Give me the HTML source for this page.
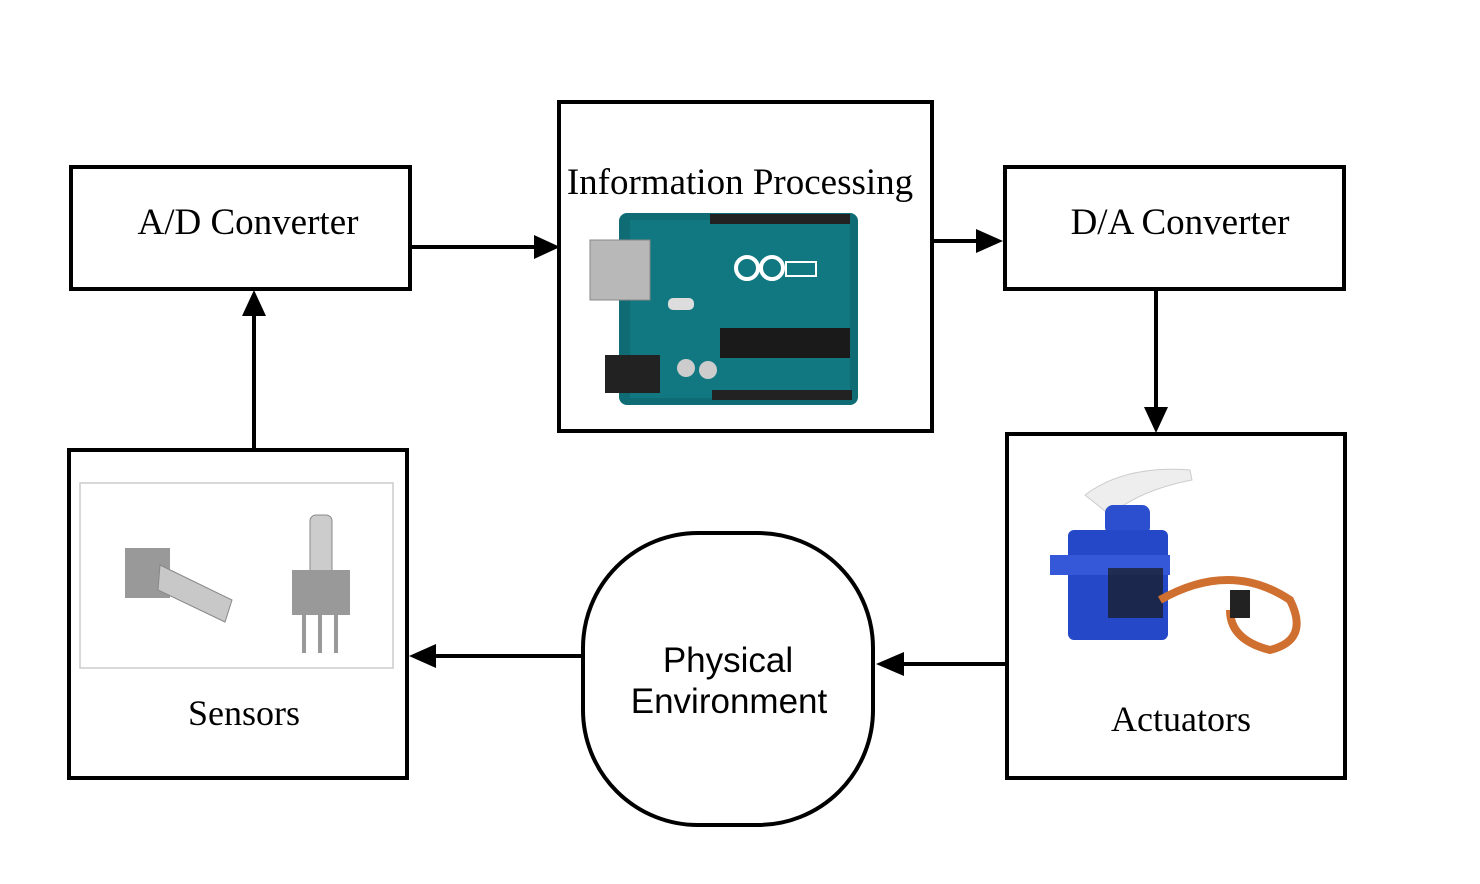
<!DOCTYPE html>
<html><head><meta charset="utf-8"><style>
html,body{margin:0;padding:0;background:#fff;}
svg{display:block;}
.serif{font-family:"Liberation Serif",serif;font-size:37px;fill:#000;}
.sans{font-family:"Liberation Sans",sans-serif;font-size:35px;fill:#000;}
</style></head><body>
<svg width="1480" height="884" viewBox="0 0 1480 884">
<g fill="none" stroke="#000" stroke-width="4">
<rect x="71" y="167" width="339" height="122"/>
<rect x="559" y="102" width="373" height="329"/>
<rect x="1005" y="167" width="339" height="122"/>
<rect x="69" y="450" width="338" height="328"/>
<rect x="1007" y="434" width="338" height="344"/>
<rect x="583" y="533" width="290" height="292" rx="115" ry="115"/>
</g>
<text class="serif" x="248" y="234" text-anchor="middle">A/D Converter</text>
<text class="serif" x="740" y="194" text-anchor="middle">Information Processing</text>
<text class="serif" x="1180" y="234" text-anchor="middle">D/A Converter</text>
<text class="serif" x="244" y="725" text-anchor="middle" style="font-size:36px">Sensors</text>
<text class="serif" x="1181" y="731" text-anchor="middle" style="font-size:36px">Actuators</text>
<text class="sans" x="728" y="672" text-anchor="middle">Physical</text>
<text class="sans" x="729" y="713" text-anchor="middle">Environment</text>

<g stroke="#000" stroke-width="4" fill="none">
<line x1="410" y1="247" x2="548" y2="247"/>
<line x1="932" y1="241" x2="994" y2="241"/>
<line x1="1156" y1="289" x2="1156" y2="423"/>
<line x1="1007" y1="664" x2="884" y2="664"/>
<line x1="583" y1="656" x2="418" y2="656"/>
<line x1="254" y1="450" x2="254" y2="300"/>
</g>
<g fill="#000">
<path d="M534,235 L560,247 L534,259 z"/>
<path d="M976,229 L1003,241 L976,253 z"/>
<path d="M1144,407 L1156,433 L1168,407 z"/>
<path d="M904,652 L876,664 L904,676 z"/>
<path d="M436,644 L409,656 L436,668 z"/>
<path d="M242,316 L254,290 L266,316 z"/>
</g>

<g>
<rect x="619" y="213" width="239" height="192" rx="8" fill="#0f6c74"/>
<rect x="630" y="220" width="220" height="178" fill="#13808a" opacity="0.6"/>
<rect x="590" y="240" width="60" height="60" fill="#b8b8b8" stroke="#888"/>
<rect x="605" y="355" width="55" height="38" fill="#222"/>
<rect x="710" y="214" width="140" height="10" fill="#222"/>
<rect x="712" y="390" width="140" height="10" fill="#222"/>
<rect x="720" y="328" width="130" height="30" fill="#1a1a1a"/>
<circle cx="747" cy="268" r="11" fill="none" stroke="#fff" stroke-width="4"/>
<circle cx="772" cy="268" r="11" fill="none" stroke="#fff" stroke-width="4"/>
<rect x="786" y="262" width="30" height="14" fill="none" stroke="#fff" stroke-width="2"/>
<circle cx="686" cy="368" r="9" fill="#ccc"/><circle cx="708" cy="370" r="9" fill="#ccc"/>
<rect x="668" y="298" width="26" height="12" rx="5" fill="#ddd"/>
</g>

<g>
<rect x="80" y="483" width="313" height="185" fill="#fff" stroke="#ccc" stroke-width="1.5"/>
<rect x="125" y="548" width="45" height="50" fill="#999"/>
<path d="M160,565 L232,600 L225,622 L158,590 z" fill="#c8c8c8" stroke="#888"/>
<rect x="310" y="515" width="22" height="60" rx="6" fill="#ccc" stroke="#888"/>
<rect x="292" y="570" width="58" height="45" fill="#999"/>
<rect x="302" y="615" width="4" height="38" fill="#999"/><rect x="318" y="615" width="4" height="38" fill="#999"/><rect x="334" y="615" width="4" height="38" fill="#999"/>
</g>

<g>
<path d="M1085,495 Q1125,465 1190,470 L1192,480 Q1140,490 1110,515 z" fill="#eee" stroke="#ccc"/>
<rect x="1105" y="505" width="45" height="30" rx="8" fill="#2c4fd0"/>
<rect x="1068" y="530" width="100" height="110" rx="6" fill="#2448c8"/>
<rect x="1050" y="555" width="120" height="20" fill="#3558d8"/>
<rect x="1108" y="568" width="55" height="50" fill="#1a1a1a" opacity="0.7"/>
<path d="M1160,600 Q1230,560 1290,600 Q1310,640 1270,650 Q1230,640 1230,610" fill="none" stroke="#d07030" stroke-width="8"/>
<rect x="1230" y="590" width="20" height="28" fill="#222"/>
</g>
</svg>
</body></html>
